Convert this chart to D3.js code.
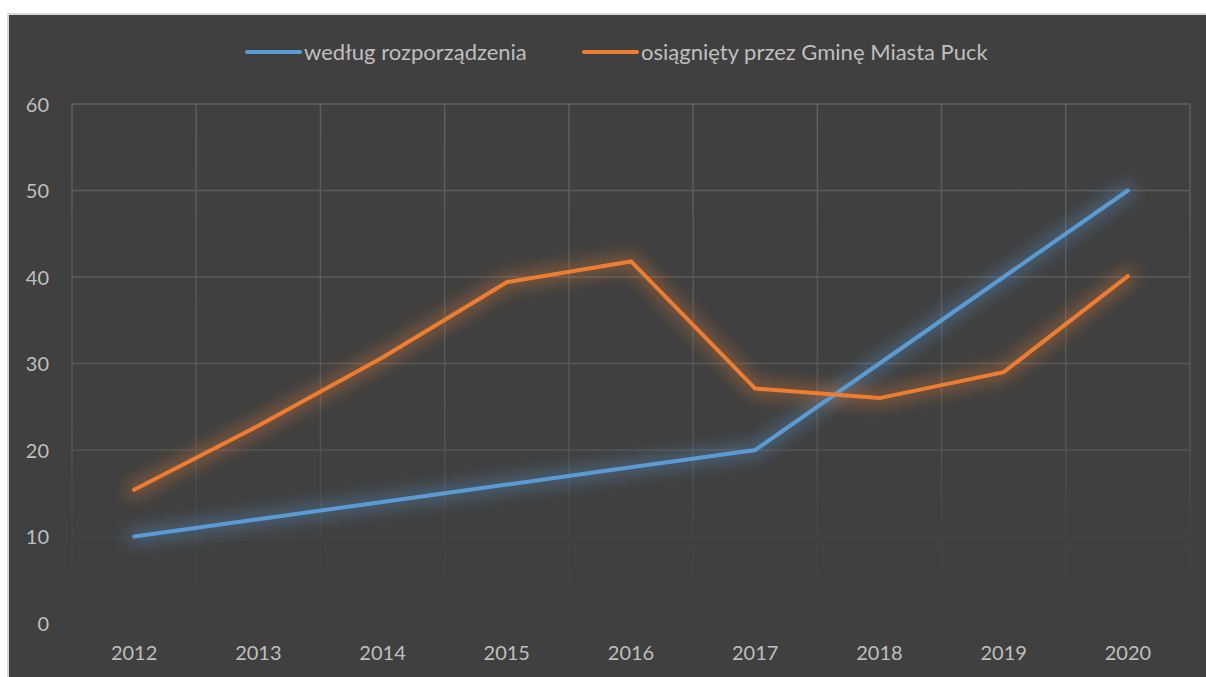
<!DOCTYPE html>
<html>
<head>
<meta charset="utf-8">
<script src="https://cdnjs.cloudflare.com/ajax/libs/d3/7.8.5/d3.min.js"></script>
<style>
  html, body { margin: 0; padding: 0; background: #ffffff; }
  svg { display: block; }
  text { font-family: Lato, "Open Sans", sans-serif; fill: #bfbfbf; }
</style>
</head>
<body>
<svg id="chart" width="1206" height="677"></svg>
<script>
const categories = ["2012","2013","2014","2015","2016","2017","2018","2019","2020"];
const seriesNames = ["według rozporządzenia", "osiągnięty przez Gminę Miasta Puck"];
const seriesBlue = [10, 12, 14, 16, 18, 20, 30, 40, 50];
const seriesOrange = [15.4, 22.8, 30.7, 39.4, 41.8, 27.1, 26.0, 29.0, 40.1];
const yTicks = [0, 10, 20, 30, 40, 50, 60];
const colors = ["#5B9BD5", "#ED7D31"];

const svg = d3.select("#chart");
const W = 1206, H = 677;
const plot = { left: 72, right: 1190, top: 104, bottom: 623 };

// chart area background with border
svg.append("rect").attr("x", 8).attr("y", 14).attr("width", W - 8 + 2).attr("height", H - 14 + 2)
  .attr("fill", "#404040").attr("stroke", "#d9d9d9").attr("stroke-width", 2);

const defs = svg.append("defs");
const grad = defs.append("linearGradient").attr("id", "gridGrad")
  .attr("gradientUnits", "userSpaceOnUse")
  .attr("x1", 0).attr("y1", plot.top).attr("x2", 0).attr("y2", plot.bottom);
grad.append("stop").attr("offset", "0%").attr("stop-color", "#606060").attr("stop-opacity", 1);
grad.append("stop").attr("offset", "65%").attr("stop-color", "#5a5a5a").attr("stop-opacity", 0.8);
grad.append("stop").attr("offset", "100%").attr("stop-color", "#404040").attr("stop-opacity", 0);

const glow = defs.append("filter").attr("id", "glow")
  .attr("x", "-20%").attr("y", "-30%").attr("width", "140%").attr("height", "160%");
glow.append("feGaussianBlur").attr("in", "SourceGraphic").attr("stdDeviation", 8).attr("result", "blur");

const x = d3.scaleBand().domain(categories).range([plot.left, plot.right]).padding(0);
const y = d3.scaleLinear().domain([0, 60]).range([plot.bottom, plot.top]);

// horizontal gridlines
const gridG = svg.append("g");
gridG.selectAll("line.h").data(yTicks.filter(d => d > 0)).join("line")
  .attr("x1", plot.left).attr("x2", plot.right)
  .attr("y1", d => y(d)).attr("y2", d => y(d))
  .attr("stroke", "url(#gridGrad)").attr("stroke-width", 1.4);
// vertical gridlines at category boundaries
const bounds = categories.map(c => x(c)).concat([x(categories[categories.length - 1]) + x.bandwidth()]);
gridG.selectAll("line.v").data(bounds).join("line")
  .attr("x1", d => d).attr("x2", d => d)
  .attr("y1", plot.top).attr("y2", plot.bottom)
  .attr("stroke", "url(#gridGrad)").attr("stroke-width", 1.4);

// y axis labels
const yAxis = d3.axisLeft(y).tickValues(yTicks).tickSize(0).tickPadding(23);
const yg = svg.append("g").attr("transform", `translate(${plot.left},0)`).call(yAxis);
yg.select(".domain").remove();
yg.selectAll("text").style("font-size", "20px").attr("fill", "#bfbfbf").attr("dy", "0.36em");

// x axis labels
const xAxis = d3.axisBottom(x).tickSize(0).tickPadding(23);
const xg = svg.append("g").attr("transform", `translate(0,${plot.bottom})`).call(xAxis);
xg.select(".domain").remove();
xg.selectAll("text").style("font-size", "20px").attr("fill", "#bfbfbf");

const line = d3.line().x((d, i) => x(categories[i]) + x.bandwidth() / 2).y(d => y(d));
const series = [seriesBlue, seriesOrange];

series.forEach((s, i) => {
  svg.append("path").datum(s).attr("d", line).attr("fill", "none")
    .attr("stroke", colors[i]).attr("stroke-width", 16).attr("stroke-opacity", 0.35)
    .attr("stroke-linejoin", "round").attr("stroke-linecap", "round")
    .attr("filter", "url(#glow)");
});
series.forEach((s, i) => {
  svg.append("path").datum(s).attr("d", line).attr("fill", "none")
    .attr("stroke", colors[i]).attr("stroke-width", 4)
    .attr("stroke-linejoin", "miter").attr("stroke-linecap", "round");
});

// legend
const legendItems = [
  { name: seriesNames[0], color: colors[0], x0: 247 },
  { name: seriesNames[1], color: colors[1], x0: 584 }
];
const lg = svg.append("g");
legendItems.forEach(it => {
  lg.append("line").attr("x1", it.x0).attr("x2", it.x0 + 53).attr("y1", 52).attr("y2", 52)
    .attr("stroke", it.color).attr("stroke-width", 4).attr("stroke-linecap", "round");
  lg.append("text").attr("x", it.x0 + 57).attr("y", 52).attr("dy", "0.35em")
    .style("font-size", "22px").text(it.name);
});
</script>
</body>
</html>
